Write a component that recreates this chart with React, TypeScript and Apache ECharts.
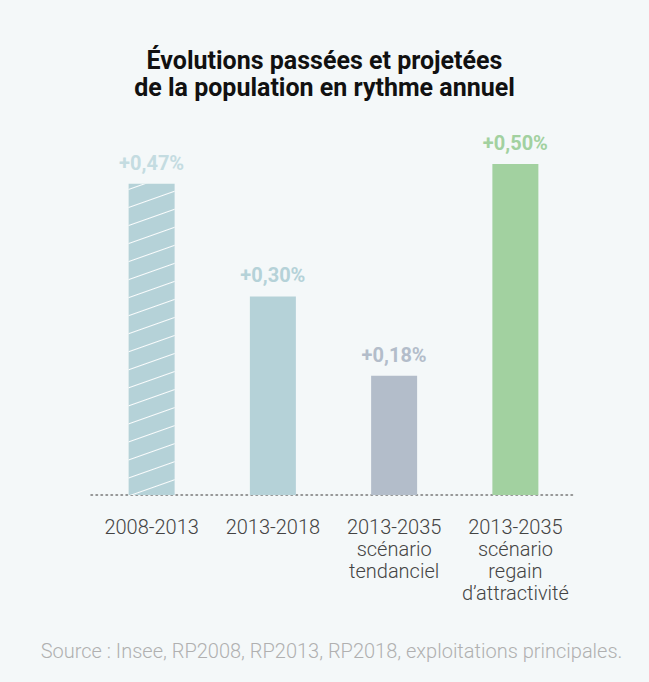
import React, { useEffect, useRef } from "react";
import * as echarts from "echarts";

const categories = [
  "2008-2013",
  "2013-2018",
  "2013-2035\nscénario\ntendanciel",
  "2013-2035\nscénario\nregain\nd’attractivité",
];
const values = [0.47, 0.3, 0.18, 0.5];
const valueLabels = ["+0,47%", "+0,30%", "+0,18%", "+0,50%"];
const barColors = ["#b5d2d8", "#b5d2d8", "#b3bdca", "#a2d1a0"];
const labelColors = ["#c4dce1", "#b5d2d8", "#b3bdca", "#a2d1a0"];

export default function App() {
  const ref = useRef<HTMLDivElement>(null);
  useEffect(() => {
    if (!ref.current) return;
    const chart = echarts.init(ref.current, undefined, { renderer: "svg" });
    const data = values.map((v, i) => ({
      value: v,
      itemStyle: {
        color: barColors[i],
        ...(i === 0
          ? {
              decal: {
                symbol: "rect",
                symbolSize: 1,
                color: "rgba(255,255,255,0.95)",
                dashArrayX: [1, 0],
                dashArrayY: [1, 16],
                rotation: -0.34,
              },
            }
          : {}),
      },
      label: { color: labelColors[i] },
    }));
    chart.setOption({
      animation: false,
      backgroundColor: "#f4f8f9",
      textStyle: { fontFamily: "Roboto" },
      title: {
        text: "Évolutions passées et projetées\nde la population en rythme annuel",
        left: "center",
        top: 42,
        textStyle: {
          fontFamily: "Roboto",
          fontSize: 25,
          fontWeight: "bold",
          lineHeight: 27,
          color: "#111",
        },
      },
      grid: { left: 91, right: 73, top: 164, bottom: 187 },
      xAxis: {
        type: "category",
        data: categories,
        axisLine: {
          show: true,
          lineStyle: { color: "#777", width: 1.5, type: [1.5, 3.5] },
        },
        axisTick: { show: false },
        axisLabel: {
          fontFamily: "Roboto",
          fontSize: 20,
          fontWeight: 300,
          lineHeight: 22,
          color: "#444",
          margin: 21,
          interval: 0,
        },
      },
      yAxis: {
        type: "value",
        min: 0,
        max: 0.5,
        show: false,
        splitLine: { show: false },
      },
      series: [
        {
          type: "bar",
          data,
          barWidth: 46,
          label: {
            show: true,
            position: "top",
            distance: 11,
            fontFamily: "Roboto",
            fontSize: 20,
            fontWeight: "bold",
            formatter: (p: any) => valueLabels[p.dataIndex],
          },
        },
      ],
      graphic: [
        {
          type: "text",
          x: 331.5,
          y: 651,
          style: {
            text: "Source : Insee, RP2008, RP2013, RP2018, exploitations principales.",
            fontFamily: "Roboto",
            fontSize: 20,
            fontWeight: 300,
            fill: "#b0b0b0",
            align: "center",
            verticalAlign: "middle",
          },
        },
      ],
    });
    return () => chart.dispose();
  }, []);
  return (
    <div
      ref={ref}
      style={{ position: "fixed", left: 0, top: 0, width: 649, height: 682 }}
    />
  );
}
